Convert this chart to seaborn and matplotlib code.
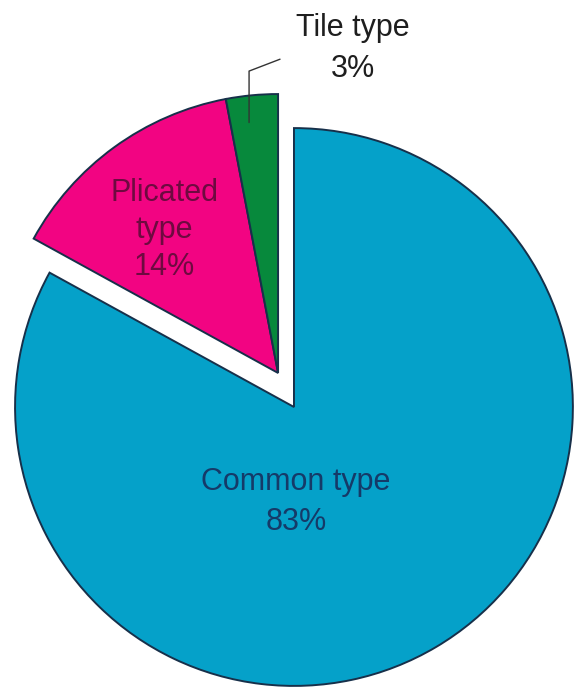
import matplotlib
matplotlib.use('Agg')
import matplotlib.pyplot as plt
import seaborn as sns

# data
categories = ['Common type', 'Plicated type', 'Tile type']
shares = [83, 14, 3]
label_text = ['Common type\n83%', 'Plicated\ntype\n14%', 'Tile type\n3%']
slice_colors = ['#05a1c9', '#f20482', '#07893c']
text_colors = ['#153a68', '#6e0a40', '#1e1e1e']

sns.set_theme(style='white')
plt.rcParams['font.family'] = ['Liberation Sans', 'DejaVu Sans']

fig = plt.figure(figsize=(5.74, 6.91), dpi=100)
ax = fig.add_axes([0, 0, 1, 1])

wedges, _ = ax.pie(
    shares,
    colors=slice_colors,
    startangle=90,
    counterclock=False,
    radius=1,
    wedgeprops={'edgecolor': '#17304a', 'linewidth': 1.4},
)

# plicated + tile pulled out together, as one block
for w in wedges[1:]:
    w.set_center((-0.057, 0.122))

# labels placed by hand like the original
label_pos = [(0.007, -0.34), (-0.466, 0.634), (0.212, 1.285)]
spacing = [1.45, 1.3, 1.45]
for txt, (x, y), c, ls in zip(label_text, label_pos, text_colors, spacing):
    ax.text(x, y, txt, ha='center', va='center', fontsize=22,
            color=c, linespacing=ls)

# leader line for the small slice
ax.annotate('', xy=(-0.161, 1.02), xytext=(-0.05, 1.247),
            arrowprops=dict(arrowstyle='-', color='#333333', lw=1,
                            shrinkA=0, shrinkB=0,
                            connectionstyle='angle,angleA=21,angleB=90,rad=0'))

ax.set_xlim(-1.054, 1.004)
ax.set_ylim(-1.018, 1.459)
ax.set_aspect('equal')
ax.axis('off')

fig.savefig('out.png', dpi=100, facecolor='white')
